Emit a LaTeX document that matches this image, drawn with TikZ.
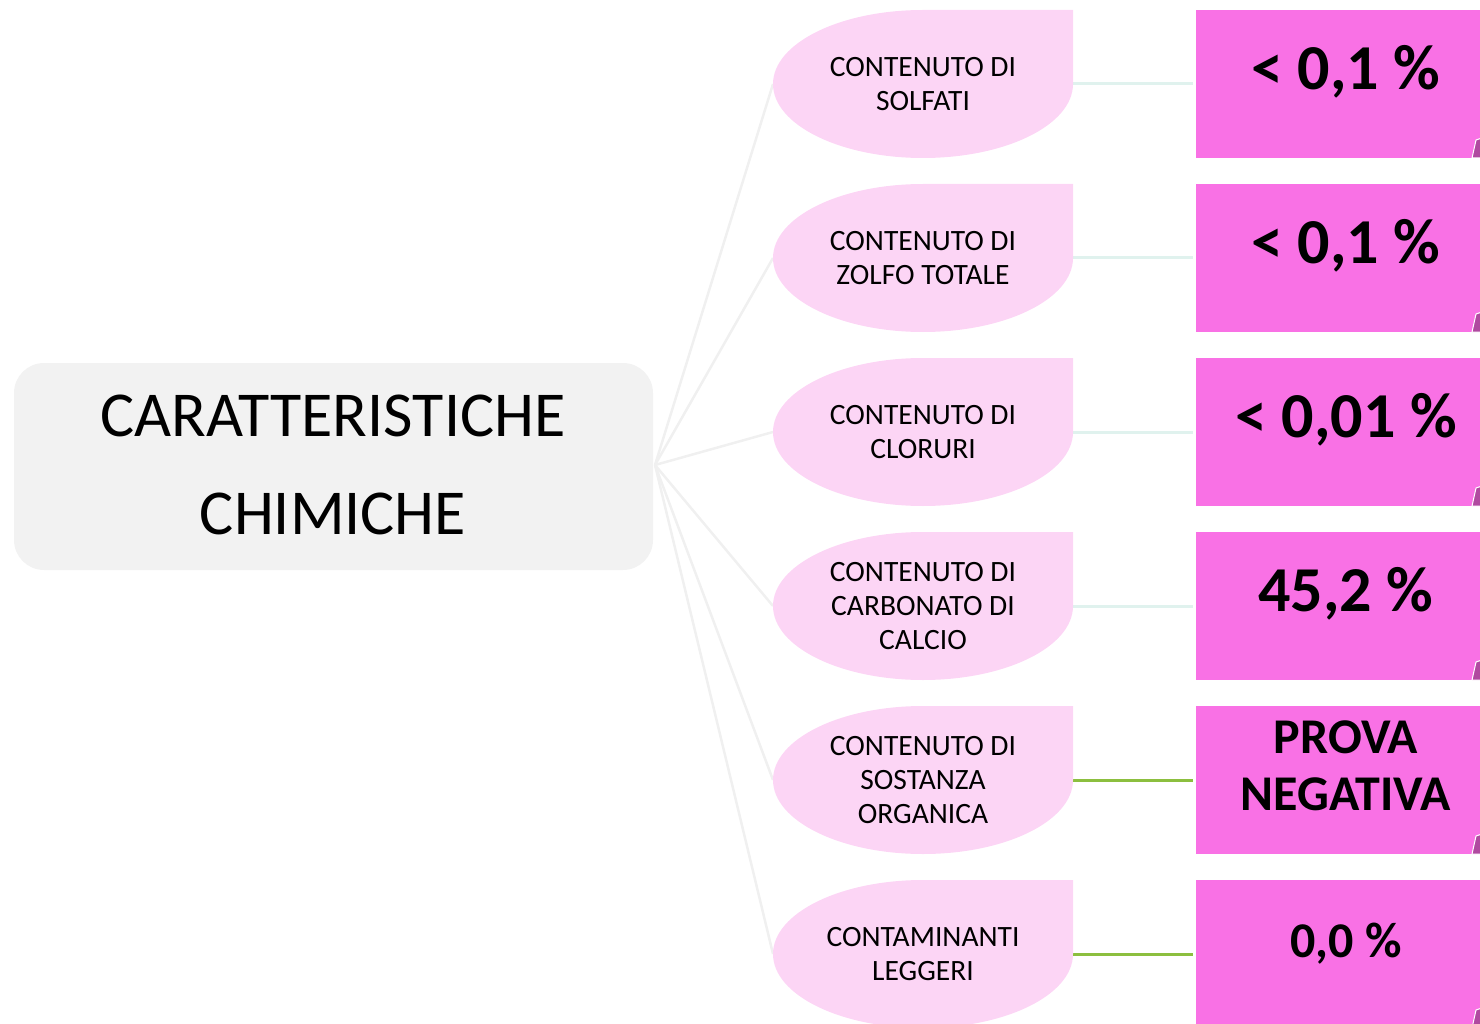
\documentclass[tikz,border=0pt]{standalone}
\usepackage{fontspec}
\setmainfont{Carlito}
\definecolor{centerfill}{HTML}{F2F2F2}
\definecolor{leaffill}{HTML}{FCD5F5}
\definecolor{boxfill}{HTML}{F971E5}
\definecolor{spoke}{HTML}{F0F0F0}
\definecolor{tealline}{HTML}{E0F2EE}
\definecolor{greenline}{HTML}{8CBF3F}
\definecolor{foldpink}{HTML}{B04AA0}
\tikzset{
  spokeline/.style={draw=spoke, line width=2.5pt},
  tealconn/.style={draw=tealline, line width=3pt},
  greenconn/.style={draw=greenline, line width=3pt},
  leaftext/.style={font=\fontsize{29.5}{34}\selectfont, align=center, text=black},
  valtext/.style={font=\fontsize{64}{64}\selectfont\bfseries, anchor=base, text=black},
  valtextsmall/.style={font=\fontsize{50}{56}\selectfont\bfseries, anchor=base, text=black},
}
\newcommand{\leafshape}[1]{%
  \fill[leaffill] (1073,#1-74) -- (923,#1-74)
    .. controls (840.2,#1-74) and (773,#1-40.9) .. (773,#1)
    .. controls (773,#1+40.9) and (840.2,#1+74) .. (923,#1+74)
    .. controls (1005.8,#1+74) and (1073,#1+40.9) .. (1073,#1) -- cycle;
}
\newcommand{\valbox}[1]{%
  \fill[boxfill] (1196,#1-74) rectangle (1496,#1+74);
  \filldraw[fill=foldpink, draw=white, line width=1pt] (1472,#1+74) -- (1476,#1+56) -- (1482,#1+54) -- (1482,#1+74) -- cycle;
}
\begin{document}
\begin{tikzpicture}[x=1pt, y=-1pt]
\useasboundingbox (0,0) rectangle (1480,1024);
% center box
\fill[centerfill, rounded corners=30pt] (14,363) rectangle (653,570);
\coordinate (hub) at (655,465);
\foreach \yy in {84,258,432,606,780,954} {\valbox{\yy}}
\coordinate (l0) at (773,84);
\coordinate (l1) at (773,258);
\coordinate (l2) at (773,432);
\coordinate (l3) at (773,606);
\coordinate (l4) at (773,780);
\coordinate (l5) at (773,954);
\coordinate (r0) at (1073,84);
\coordinate (r1) at (1073,258);
\coordinate (r2) at (1073,432);
\coordinate (r3) at (1073,606);
\coordinate (r4) at (1073,780);
\coordinate (r5) at (1073,954);
\coordinate (b0) at (1193,84);
\coordinate (b1) at (1193,258);
\coordinate (b2) at (1193,432);
\coordinate (b3) at (1193,606);
\coordinate (b4) at (1193,780);
\coordinate (b5) at (1193,954);
\foreach \i in {0,...,5} {\draw[spokeline] (hub) -- (l\i);}
\foreach \i in {0,...,3} {\draw[tealconn] (r\i) -- (b\i);}
\foreach \i in {4,5} {\draw[greenconn] (r\i) -- (b\i);}
% leaves over spokes
\foreach \yy in {84,258,432,606,780,954} {\leafshape{\yy}}
% title
\node[font=\fontsize{64}{64}\selectfont, anchor=base] (t1) at (333,436) {CARATTERISTICHE};
\node[font=\fontsize{64}{64}\selectfont, anchor=base] (t2) at (333,534) {CHIMICHE};
% leaf texts
\node[leaftext] (n0) at (923,84) {CONTENUTO DI\\SOLFATI};
\node[leaftext] (n1) at (923,258) {CONTENUTO DI\\ZOLFO TOTALE};
\node[leaftext] (n2) at (923,432) {CONTENUTO DI\\CLORURI};
\node[leaftext] (n3) at (923,606) {CONTENUTO DI\\CARBONATO DI\\CALCIO};
\node[leaftext] (n4) at (923,780) {CONTENUTO DI\\SOSTANZA\\ORGANICA};
\node[leaftext] (n5) at (923,954) {CONTAMINANTI\\LEGGERI};
% values
\node[valtext] (v0) at (1346,90) {< 0,1 \%};
\node[valtext] (v1) at (1346,264) {< 0,1 \%};
\node[valtext] (v2) at (1346,437) {< 0,01 \%};
\node[valtext] (v3) at (1346,611) {45,2 \%};
\node[valtextsmall] (v4a) at (1346,753) {PROVA};
\node[valtextsmall] (v4b) at (1346,810) {NEGATIVA};
\node[valtextsmall] (v5) at (1346,957) {0,0 \%};
\end{tikzpicture}
\end{document}
